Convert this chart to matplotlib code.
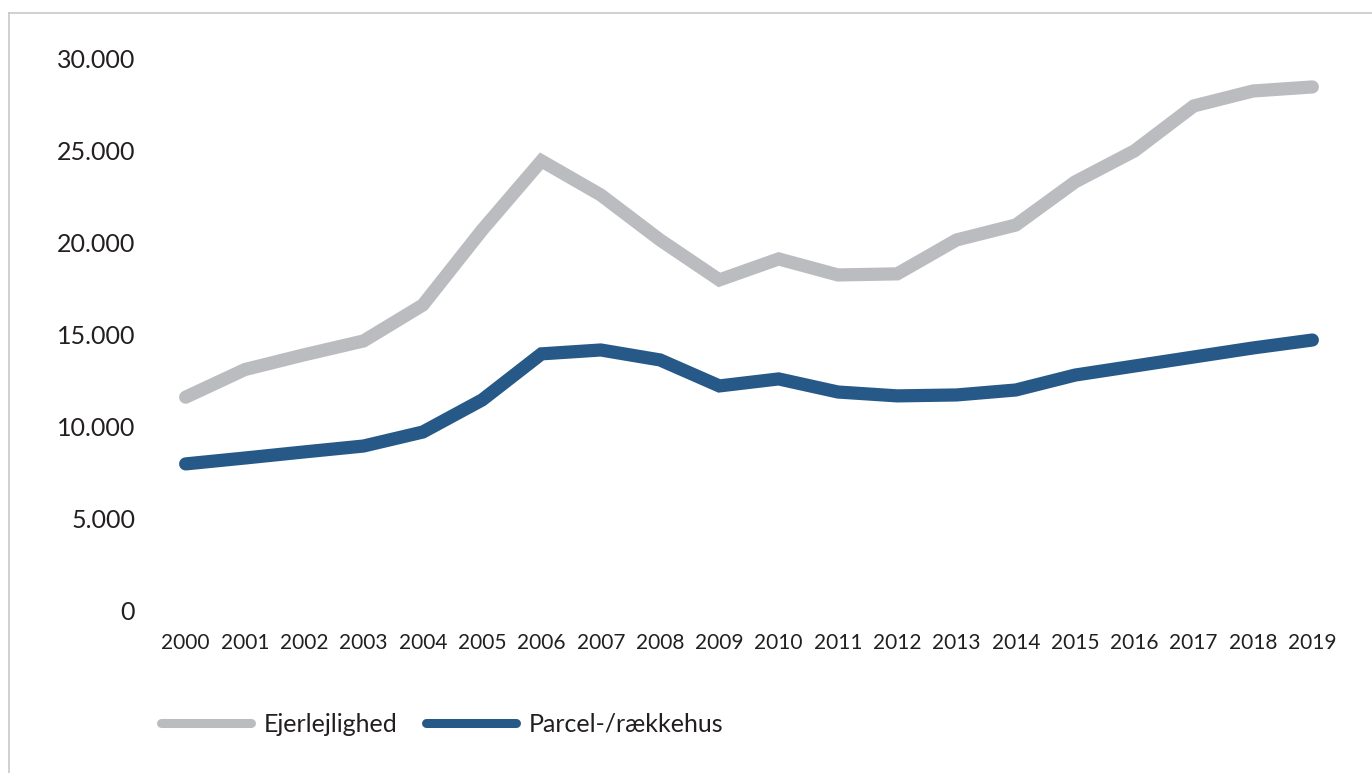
import matplotlib.pyplot as plt
from matplotlib.lines import Line2D
from matplotlib.ticker import FuncFormatter

plt.rcParams['font.family'] = ['Lato', 'DejaVu Sans']

years = [str(y) for y in range(2000, 2020)]
ejerlejlighed = [11600, 13100, 13900, 14650, 16600, 20670, 24420, 22570, 20130, 17960,
                 19100, 18230, 18290, 20130, 20940, 23280, 24960, 27400, 28210, 28430]
parcel = [7980, 8300, 8630, 8950, 9710, 11450, 13950, 14160, 13620, 12210,
          12590, 11880, 11670, 11720, 11990, 12800, 13290, 13780, 14270, 14700]
yticks = [0, 5000, 10000, 15000, 20000, 25000, 30000]

gray = '#bbbcbf'
blue = '#265987'
textc = '#231f20'

fig = plt.figure(figsize=(13.72, 7.73), dpi=100)
ax = fig.add_axes([156 / 1372, 1 - 611 / 773, 1186 / 1372, (611 - 58) / 773])

x = range(len(years))
ax.plot(x, ejerlejlighed, color=gray, lw=9.5, solid_capstyle='round', solid_joinstyle='miter')
ax.plot(x, parcel, color=blue, lw=9.5, solid_capstyle='round', solid_joinstyle='miter')

ax.set_xlim(-0.5, len(years) - 0.5)
ax.set_ylim(0, 30000)
ax.set_xticks(list(x))
ax.set_xticklabels(years)
ax.set_yticks(yticks)
ax.yaxis.set_major_formatter(FuncFormatter(lambda v, p: f"{v:,.0f}".replace(",", ".")))
ax.tick_params(axis='y', length=0, pad=15, labelsize=18, labelcolor=textc)
ax.tick_params(axis='x', length=0, pad=16, labelsize=15, labelcolor=textc)
for s in ax.spines.values():
    s.set_visible(False)

# legend
handles = [Line2D([], [], color=gray, lw=6.5, solid_capstyle='round'),
           Line2D([], [], color=blue, lw=6.5, solid_capstyle='round')]
fig.legend(handles, ['Ejerlejlighed', 'Parcel-/rækkehus'], loc='center left',
           bbox_to_anchor=(161 / 1372, 1 - 724 / 773), ncol=2, frameon=False,
           fontsize=18, handlelength=3.6, handletextpad=0.5, columnspacing=1.15,
           borderpad=0, borderaxespad=0, labelcolor=textc)

# outer frame (top and left)
fig.add_artist(Line2D([9 / 1372, 9 / 1372], [0, 1 - 13 / 773], color='#c8c8c8', lw=1.2,
                      transform=fig.transFigure))
fig.add_artist(Line2D([9 / 1372, 1], [1 - 13 / 773, 1 - 13 / 773], color='#c8c8c8', lw=1.2,
                      transform=fig.transFigure))

fig.savefig('out.png', dpi=100)
